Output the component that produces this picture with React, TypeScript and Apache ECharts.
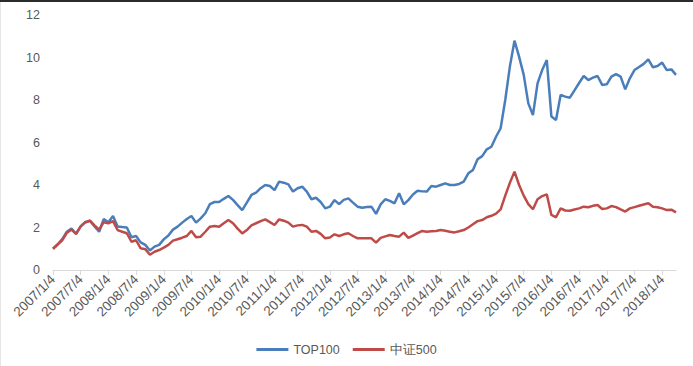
import React, { useEffect, useRef } from "react";
import * as echarts from "echarts";

const startYear = 2007;
const monthCount = 136;
const dates: string[] = [];
for (let i = 0; i < monthCount; i++) {
  const y = startYear + Math.floor(i / 12);
  const m = (i % 12) + 1;
  dates.push(`${y}/${m}/4`);
}

const yTicks = [0, 2, 4, 6, 8, 10, 12];

const top100 = [
  1.0, 1.2, 1.45, 1.8, 1.95, 1.7, 2.05, 2.25, 2.32, 2.05,
  1.8, 2.4, 2.25, 2.54, 2.05, 2.02, 2.0, 1.54, 1.6, 1.3,
  1.18, 0.92, 1.1, 1.18, 1.44, 1.62, 1.9, 2.04, 2.23, 2.4,
  2.54, 2.23, 2.43, 2.67, 3.1, 3.2, 3.2, 3.35, 3.48, 3.3,
  3.05, 2.82, 3.17, 3.53, 3.64, 3.85, 4.0, 3.95, 3.76, 4.16,
  4.11, 4.03, 3.69, 3.85, 3.92, 3.69, 3.33, 3.4, 3.2, 2.9,
  2.98, 3.29, 3.1, 3.3, 3.37, 3.17, 2.98, 2.93, 2.96, 2.98,
  2.64, 3.09, 3.33, 3.25, 3.14, 3.61, 3.09, 3.29, 3.55, 3.73,
  3.7, 3.69, 3.95, 3.92, 4.0, 4.08, 4.0, 4.0, 4.05, 4.16,
  4.55, 4.71, 5.21, 5.36, 5.68, 5.8, 6.27, 6.67, 8.0, 9.57,
  10.79, 10.04, 9.18, 7.84, 7.29, 8.78, 9.41, 9.88, 7.22, 7.06,
  8.24, 8.16, 8.11, 8.45, 8.8, 9.13, 8.94, 9.05, 9.13, 8.71,
  8.74, 9.1, 9.22, 9.1, 8.5, 9.02, 9.41, 9.55, 9.7, 9.91,
  9.54, 9.6, 9.76, 9.41, 9.44, 9.18,
];

const csi500 = [
  1.0, 1.2, 1.4, 1.75, 1.9, 1.7, 2.05, 2.25, 2.32, 2.1,
  1.9, 2.25, 2.2, 2.3, 1.88, 1.8, 1.73, 1.33, 1.4, 1.02,
  0.98, 0.72, 0.86, 0.94, 1.05, 1.18, 1.38, 1.45, 1.52, 1.6,
  1.84, 1.54, 1.57, 1.8, 2.04, 2.07, 2.04, 2.2, 2.35, 2.2,
  1.95, 1.72, 1.88, 2.1, 2.2, 2.3, 2.38, 2.25, 2.12, 2.38,
  2.32, 2.23, 2.04, 2.1, 2.12, 2.04, 1.8, 1.84, 1.7, 1.49,
  1.53, 1.68, 1.6, 1.68, 1.73, 1.6, 1.49, 1.49, 1.49, 1.49,
  1.29, 1.51, 1.58, 1.65, 1.6, 1.57, 1.76, 1.51, 1.62, 1.73,
  1.84, 1.8, 1.82, 1.84, 1.88, 1.85, 1.8, 1.77, 1.82, 1.88,
  2.0, 2.15, 2.3, 2.35, 2.48, 2.55, 2.65, 2.85, 3.5, 4.1,
  4.63, 4.0, 3.5, 3.1, 2.86, 3.33, 3.48, 3.56, 2.59, 2.48,
  2.9, 2.8, 2.79, 2.85, 2.9, 2.98, 2.95, 3.02, 3.06, 2.87,
  2.9, 3.01, 2.96, 2.85, 2.75, 2.9, 2.96, 3.02, 3.08, 3.14,
  2.98, 2.95, 2.9, 2.82, 2.84, 2.71,
];

export default function App() {
  const ref = useRef<HTMLDivElement>(null);
  useEffect(() => {
    document.body.style.margin = "0";
    if (!ref.current) return;
    const chart = echarts.init(ref.current, null, { renderer: "svg" });
    chart.setOption({
      animation: false,
      backgroundColor: "#ffffff",
      textStyle: { fontFamily: "Liberation Sans, Arial, sans-serif" },
      grid: { left: 53, right: 17, top: 15, bottom: 96, containLabel: false },
      xAxis: {
        type: "category",
        data: dates,
        boundaryGap: false,
        axisLine: { lineStyle: { color: "#d9d9d9", width: 1 } },
        axisTick: { interval: 5, length: 5, lineStyle: { color: "#d9d9d9" } },
        axisLabel: {
          interval: 5,
          rotate: 45,
          color: "#595959",
          fontSize: 13.5,
          margin: 7,
        },
        splitLine: { show: false },
      },
      yAxis: {
        type: "value",
        min: yTicks[0],
        max: yTicks[yTicks.length - 1],
        interval: 2,
        axisLine: { show: false },
        axisTick: { show: false },
        splitLine: { show: false },
        axisLabel: { color: "#595959", fontSize: 12.5, margin: 13 },
      },
      legend: {
        bottom: 5,
        left: "center",
        itemWidth: 32,
        itemHeight: 3,
        itemGap: 13,
        icon: "rect",
        textStyle: { color: "#595959", fontSize: 12.5 },
        data: ["TOP100", "中证500"],
      },
      graphic: [
        { type: "rect", left: 0, top: 0, shape: { width: 693, height: 2 }, style: { fill: "#2b2b2b" } },
        { type: "rect", left: 0, top: 2, shape: { width: 1, height: 364 }, style: { fill: "#e6e6e6" } },
      ],
      series: [
        {
          name: "TOP100",
          type: "line",
          data: top100,
          showSymbol: false,
          symbol: "none",
          lineStyle: { color: "#4a7ebb", width: 2.5 },
          itemStyle: { color: "#4a7ebb" },
        },
        {
          name: "中证500",
          type: "line",
          data: csi500,
          showSymbol: false,
          symbol: "none",
          lineStyle: { color: "#be4b48", width: 2.5 },
          itemStyle: { color: "#be4b48" },
        },
      ],
    });
    return () => chart.dispose();
  }, []);
  return <div ref={ref} style={{ width: 693, height: 366 }} />;
}
